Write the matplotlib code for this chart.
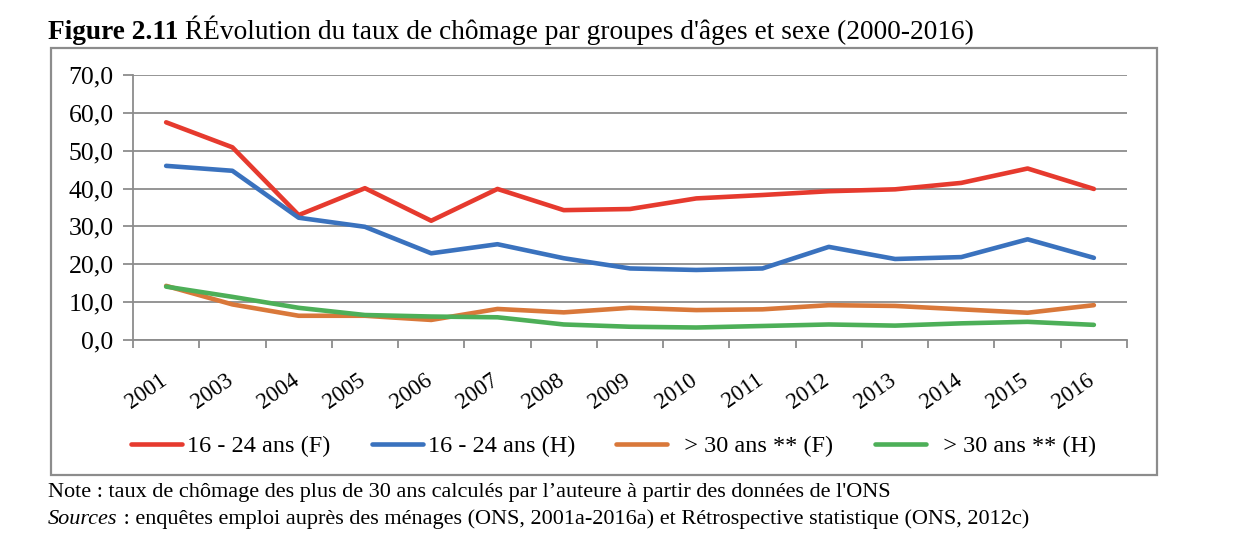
import matplotlib
matplotlib.use("Agg")
import matplotlib.pyplot as plt
from matplotlib.patches import Rectangle

years = ["2001", "2003", "2004", "2005", "2006", "2007", "2008", "2009",
         "2010", "2011", "2012", "2013", "2014", "2015", "2016"]
f_16_24 = [57.5, 50.9, 33.0, 40.1, 31.5, 39.9, 34.3, 34.6, 37.4, 38.3, 39.3, 39.8, 41.5, 45.3, 39.9]
h_16_24 = [46.0, 44.7, 32.3, 29.9, 22.9, 25.3, 21.6, 18.9, 18.5, 18.9, 24.6, 21.4, 21.9, 26.6, 21.7]
f_30 = [14.3, 9.4, 6.4, 6.4, 5.3, 8.2, 7.3, 8.5, 7.9, 8.1, 9.2, 9.0, 8.1, 7.2, 9.2]
h_30 = [14.1, 11.4, 8.5, 6.6, 6.2, 6.0, 4.1, 3.5, 3.3, 3.7, 4.1, 3.8, 4.4, 4.8, 4.0]
series_labels = ["16 - 24 ans (F)", "16 - 24 ans (H)", "  > 30 ans ** (F)", "  > 30 ans ** (H)"]
series_colors = ["#E63A2E", "#3A72BE", "#D9783A", "#4DAF58"]
y_ticks = [0, 10, 20, 30, 40, 50, 60, 70]

plt.rcParams['font.family'] = ['Liberation Serif', 'DejaVu Serif']

W, H = 1242, 536
fig = plt.figure(figsize=(W / 100, H / 100), dpi=100)

def fx(px):
    return px / W

def fy(py):
    return 1 - py / H

# chart frame
fig.patches.append(Rectangle((fx(51), fy(475)), fx(1157) - fx(51), fy(48) - fy(475),
                             transform=fig.transFigure, fill=False,
                             edgecolor="#8c8c8c", linewidth=1.6, zorder=0))

ax = fig.add_axes([fx(133), fy(340), fx(1127) - fx(133), fy(75) - fy(340)])
x = list(range(len(years)))
for vals, lab, col in zip([f_16_24, h_16_24, f_30, h_30], series_labels, series_colors):
    ax.plot(x, vals, color=col, lw=3.3, label=lab, solid_capstyle="round", zorder=3)

ax.set_xlim(-0.5, len(years) - 0.5)
ax.set_ylim(0, 70)
ax.set_yticks(y_ticks)
ax.set_yticklabels([f"{v:.1f}".replace(".", ",") for v in y_ticks], fontsize=18.5)
ax.yaxis.grid(True, color="#8c8c8c", lw=1.3)
ax.set_axisbelow(True)
ax.set_xticks([i - 0.5 for i in range(len(years) + 1)])
ax.set_xticklabels([])
for i, yr in enumerate(years):
    ax.annotate(yr, xy=(i, 0), xycoords="data", xytext=(-20, -51), textcoords="offset pixels",
                rotation=35, ha="center", va="center", fontsize=16.5, annotation_clip=False)
ax.tick_params(axis="x", which="major", length=6, color="#8c8c8c", width=1.3, direction="out")
ax.tick_params(axis="y", length=7, color="#8c8c8c", width=1.3, pad=7)
for s in ["top", "right"]:
    ax.spines[s].set_visible(False)
for s in ["left", "bottom"]:
    ax.spines[s].set_color("#8c8c8c")
    ax.spines[s].set_linewidth(1.3)

fig.legend(loc="center", bbox_to_anchor=(fx(613.5), fy(446)), ncol=4, frameon=False,
           fontsize=17.5, handlelength=2.1, columnspacing=1.7, handletextpad=0.2,
           borderpad=0, borderaxespad=0)

# title
fig.canvas.draw()
r = fig.canvas.get_renderer()
t1 = fig.text(fx(48), fy(39), "Figure 2.11", fontsize=19.7, fontweight="bold", va="baseline", ha="left")
bb = t1.get_window_extent(r)
fig.text(bb.x1 / W, fy(39), " ŔÉvolution du taux de chômage par groupes d'âges et sexe (2000-2016)",
         fontsize=19.7, va="baseline", ha="left")

fig.text(fx(48), fy(497), "Note : taux de chômage des plus de 30 ans calculés par l\u2019auteure à partir des données de l'ONS",
         fontsize=16, va="baseline", ha="left")
t2 = fig.text(fx(48), fy(524), "Sources", fontsize=16, style="italic", va="baseline", ha="left")
bb2 = t2.get_window_extent(r)
fig.text(bb2.x1 / W, fy(524), " : enquêtes emploi auprès des ménages (ONS, 2001a-2016a) et Rétrospective statistique (ONS, 2012c)",
         fontsize=16, va="baseline", ha="left")

fig.savefig("out.png", dpi=100)
